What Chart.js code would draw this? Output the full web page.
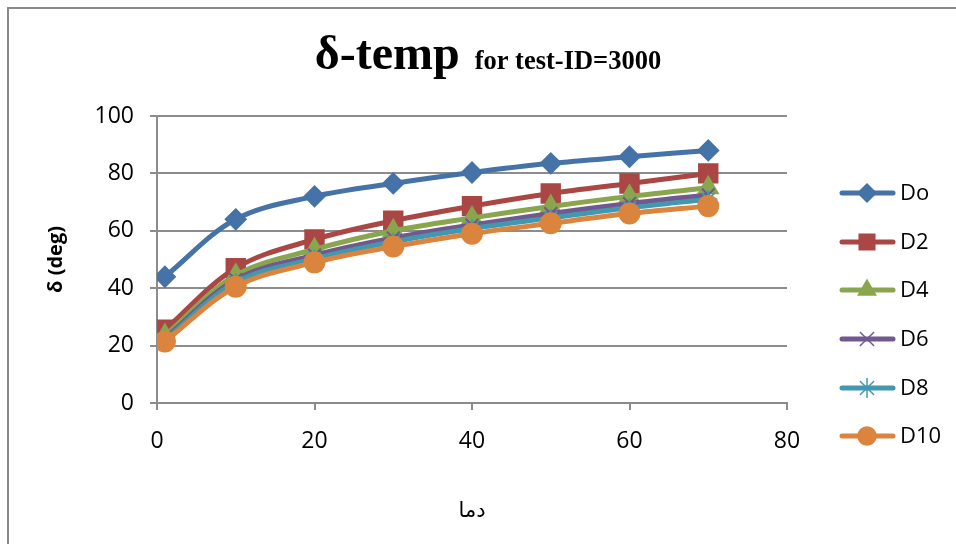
<!DOCTYPE html>
<html>
<head>
<meta charset="utf-8">
<script src="https://cdn.jsdelivr.net/npm/chart.js@4/dist/chart.umd.min.js"></script>
<style>
  html, body { margin: 0; padding: 0; background: #fff; }
  canvas { display: block; }
</style>
</head>
<body>
<canvas id="chart" width="956" height="544"></canvas>
<script>
// values
const temps = [1, 10, 20, 30, 40, 50, 60, 70];
const dO = [44, 64, 72, 76.5, 80.3, 83.5, 85.8, 88];
const d2 = [25.5, 47, 57, 63.5, 68.6, 73, 76.5, 80];
const d4 = [23.5, 44.5, 53.5, 60, 64.5, 68.5, 72, 75];
const d6 = [22.5, 43, 51.5, 57.5, 62, 66, 69.5, 72.5];
const d8 = [22, 42, 50.3, 56.2, 60.8, 64.5, 68, 71];
const d10 = [21.4, 40.5, 49, 54.5, 59, 62.6, 66, 68.6];
const seriesNames = ["Do", "D2", "D4", "D6", "D8", "D10"];
const seriesValues = [dO, d2, d4, d6, d8, d10];
const xTicks = [0, 20, 40, 60, 80];
const yTicks = [0, 20, 40, 60, 80, 100];

const colors = ["#4572A7", "#AA4643", "#89A54E", "#71588F", "#4198AF", "#DB843D"];
const markers = ["rectRot", "rect", "triangle", "crossRot", "star", "circle"];
const markerSize = [10, 13, 11, 9, 9, 10];
const legendSize = [9, 11, 10, 10, 10, 9];

const gridGray = "#8c8c8c";
const tickFont = { family: "'Open Sans', sans-serif", size: 23 };

const datasets = seriesNames.map((name, i) => ({
  label: name,
  data: temps.map((t, j) => ({ x: t, y: seriesValues[i][j] })),
  borderColor: colors[i],
  backgroundColor: colors[i],
  borderWidth: 5,
  pointStyle: markers[i],
  pointRadius: markerSize[i],
  pointBorderWidth: 2,
  pointBorderColor: colors[i],
  pointBackgroundColor: colors[i],
  tension: 0.35,
  order: seriesNames.length - i
}));

// frame round the chart (left and top edges visible)
const framePlugin = {
  id: "frame",
  beforeDraw(chart) {
    const ctx = chart.ctx;
    ctx.save();
    ctx.fillStyle = "#fff";
    ctx.fillRect(0, 0, chart.width, chart.height);
    ctx.strokeStyle = "#8a8a8a";
    ctx.lineWidth = 2;
    ctx.strokeRect(8, 8, 1200, 1200);
    ctx.restore();
  }
};

// two-size title and line+marker legend
const titleLegendPlugin = {
  id: "titleLegend",
  afterDraw(chart) {
    const ctx = chart.ctx;
    ctx.save();
    ctx.fillStyle = "#000";
    ctx.textBaseline = "alphabetic";
    const big = "bold 48px 'Liberation Serif', 'Times New Roman', serif";
    const small = "bold 26.5px 'Liberation Serif', 'Times New Roman', serif";
    const t1 = "δ-temp", t2 = "for test-ID=3000";
    ctx.font = big;
    const w1 = ctx.measureText(t1).width;
    ctx.font = small;
    const w2 = ctx.measureText(t2).width;
    const gap = 15;
    let x = 488 - (w1 + gap + w2) / 2;
    ctx.font = big;
    ctx.fillText(t1, x, 69);
    ctx.font = small;
    ctx.fillText(t2, x + w1 + gap, 69);

    const legendY = [193, 242, 290, 339, 388, 436];
    ctx.font = "22px 'Open Sans', sans-serif";
    ctx.textBaseline = "middle";
    chart.data.datasets.forEach((ds, i) => {
      const y = legendY[i];
      ctx.strokeStyle = ds.borderColor;
      ctx.lineWidth = 5;
      ctx.lineCap = "round";
      ctx.beginPath();
      ctx.moveTo(842, y);
      ctx.lineTo(893, y);
      ctx.stroke();
      ctx.fillStyle = ds.borderColor;
      ctx.lineWidth = 1.5;
      ctx.lineCap = "butt";
      if (Chart.helpers && Chart.helpers.drawPoint) {
        Chart.helpers.drawPoint(ctx, {
          pointStyle: ds.pointStyle, radius: legendSize[i], rotation: 0, borderWidth: 1.5
        }, 867, y);
      }
      ctx.fillStyle = "#000";
      ctx.fillText(ds.label, 900, y + 1);
    });
    ctx.restore();
  }
};

new Chart(document.getElementById("chart"), {
  type: "line",
  data: { datasets },
  options: {
    responsive: false,
    animation: false,
    devicePixelRatio: 1,
    layout: { padding: { left: 0, top: 116, right: 169, bottom: 0 } },
    plugins: {
      legend: { display: false },
      tooltip: { enabled: false }
    },
    scales: {
      x: {
        type: "linear",
        min: 0,
        max: 80,
        afterBuildTicks(scale) { scale.ticks = xTicks.map(v => ({ value: v })); },
        afterFit(scale) { scale.height = 141; },
        ticks: { color: "#000", font: tickFont, padding: 18 },
        grid: { drawOnChartArea: false, color: gridGray, lineWidth: 2, tickLength: 7 },
        border: { color: gridGray, width: 2 },
        title: {
          display: true,
          text: "دما",
          color: "#000",
          font: { family: "'DejaVu Sans', sans-serif", size: 21 },
          padding: { top: 0, bottom: 20 }
        }
      },
      y: {
        min: 0,
        max: 100,
        afterBuildTicks(scale) { scale.ticks = yTicks.map(v => ({ value: v })); },
        afterFit(scale) { scale.width = 157; },
        ticks: { color: "#000", font: tickFont, padding: 16 },
        grid: { color: gridGray, lineWidth: 2, tickLength: 7 },
        border: { color: gridGray, width: 2 },
        title: {
          display: true,
          text: "δ (deg)",
          color: "#000",
          font: { family: "'Open Sans', sans-serif", size: 20, weight: "bold" },
          padding: { top: 44, bottom: 0 }
        }
      }
    }
  },
  plugins: [framePlugin, titleLegendPlugin]
});
</script>
</body>
</html>
